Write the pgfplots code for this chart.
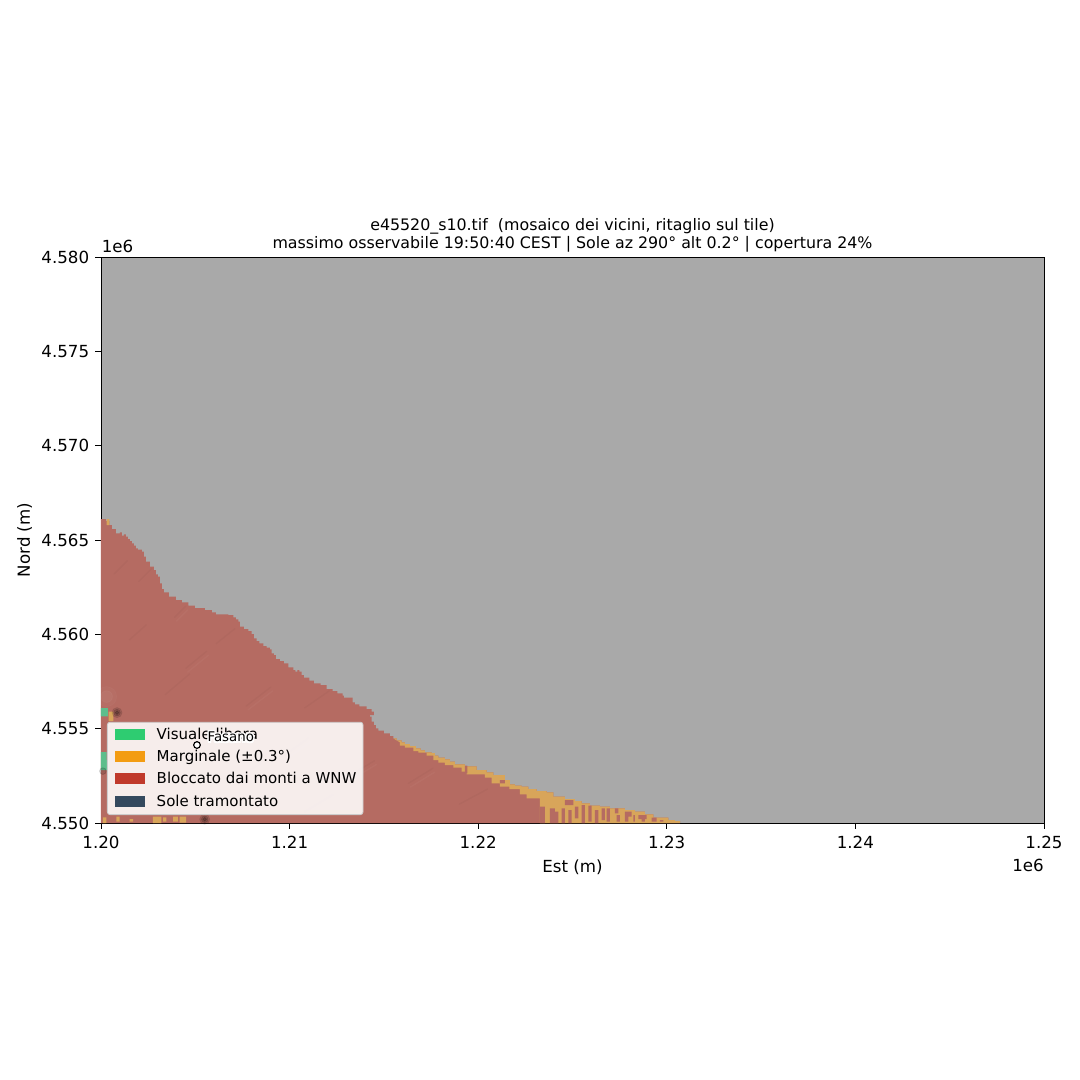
\documentclass[border=0pt]{standalone}
\usepackage{fontspec}
\setmainfont{DejaVu Sans}
\setsansfont{DejaVu Sans}
\usepackage{pgfplots}
\pgfplotsset{compat=1.18}
\definecolor{cgrey}{HTML}{A9A9A9}
\definecolor{credov}{HTML}{B56B62}
\definecolor{corov}{HTML}{D8A55A}
\definecolor{cgrov}{HTML}{5DBE8C}
\definecolor{cg}{HTML}{2ECC71}
\definecolor{co}{HTML}{F39C12}
\definecolor{cr}{HTML}{C0392B}
\definecolor{cn}{HTML}{34495E}
\pgfplotsset{
 base/.style={
  scale only axis, width=565.8pt, height=339.6pt,
  at={(0pt,0pt)}, anchor=south west,
  xmin=1200000, xmax=1250000, ymin=4550000, ymax=4580000,
  clip=true, unbounded coords=jump, scaled x ticks=false, scaled y ticks=false,
 },
 swatch/.style={legend image code/.code={\fill[##1,fill opacity=1,draw=none,sharp corners] (1.8pt,-0.3pt) rectangle (19.8pt,6.3pt);\path (0pt,0pt) (25.2pt,0pt);}},
}
\newcommand{\haloone}[2]{\node[white,font=\fontsize{8}{9.6}\selectfont,anchor=center] at ([xshift=#1pt,yshift=#2pt]axis cs:1206880,4554550) {Fasano};}
\begin{document}
\begin{tikzpicture}
\path[use as bounding box] (-60.6pt,-154.2pt) rectangle (587.4pt,493.8pt);
\begin{axis}[base,
  axis background/.style={fill=cgrey},
  line width=0.48pt,
  tick style={black,line width=0.48pt},
  major tick length=3.5pt,
  tick align=outside, xtick pos=bottom, ytick pos=left,
  xtick={1200000,1210000,1220000,1230000,1240000,1250000},
  xticklabels={1.20,1.21,1.22,1.23,1.24,1.25},
  ytick={4550000,4555000,4560000,4565000,4570000,4575000,4580000},
  yticklabels={4.550,4.555,4.560,4.565,4.570,4.575,4.580},
  tick label style={font=\fontsize{10}{12}\selectfont},
  x tick label style={yshift=-1pt},
  title style={at={(axis description cs:0.5,1)},anchor=south,align=center,yshift=-6.6pt,font=\fontsize{9.5}{10.9}\selectfont},
  title={e45520\_s10.tif\ \ (mosaico dei vicini, ritaglio sul tile)\\massimo osservabile 19:50:40 CEST | Sole az 290° alt 0.2° | copertura 24\%},
  xlabel={Est (m)}, ylabel={Nord (m)},
  label style={font=\fontsize{10}{12}\selectfont},
  xlabel style={at={(axis description cs:0.5,-0.0777)},anchor=center},
  ylabel style={at={(axis description cs:-0.081,0.5)},anchor=center,rotate=0},
  legend style={at={(0.00636,0.01413)},anchor=south west,
    fill=white,fill opacity=0.88,draw opacity=1,text opacity=1,draw=black!20,
    rounded corners=1.5pt,line width=0.5pt,
    font=\fontsize{9}{10.8}\selectfont,
    inner xsep=2.4pt,inner ysep=1.6pt,row sep=1.4pt,
    nodes={inner sep=1.5pt,anchor=base west,text height=7pt,text depth=2.0pt}},
  legend cell align=left,
  swatch,
]
\addlegendimage{fill=cg}\addlegendentry{Visuale libera}
\addlegendimage{fill=co}\addlegendentry{Marginale (±0.3°)}
\addlegendimage{fill=cr}\addlegendentry{Bloccato dai monti a WNW}
\addlegendimage{fill=cn}\addlegendentry{Sole tramontato}
% blocked region
\addplot[const plot,fill=credov,draw=none,forget plot] coordinates {
(1200000,4550000)(1200000,4566112)(1200265,4566006)(1200442,4565794)(1200583,4565582)(1200795,4565352)(1201007,4565405)
(1201113,4565228)(1201219,4565299)(1201325,4565175)(1201431,4565052)(1201537,4564946)(1201643,4564822)(1201749,4564698)
(1201855,4564557)(1201961,4564486)(1202173,4564380)(1202279,4564115)(1202385,4563850)(1202598,4563585)(1202810,4563408)
(1202916,4563179)(1203022,4563055)(1203128,4562702)(1203234,4562401)(1203340,4562225)(1203605,4561995)(1203976,4561818)
(1204294,4561695)(1204630,4561518)(1204983,4561394)(1205514,4561289)(1205885,4561165)(1206097,4561059)(1206751,4561024)
(1207016,4560900)(1207157,4560794)(1207281,4560670)(1207369,4560405)(1207581,4560282)(1207811,4560176)(1207988,4560017)
(1208112,4559787)(1208253,4559646)(1208394,4559522)(1208606,4559381)(1208783,4559292)(1208960,4559204)(1209048,4558992)
(1209172,4558903)(1209278,4558691)(1209490,4558585)(1209702,4558462)(1209932,4558250)(1210197,4558108)(1210303,4558020)
(1210409,4558108)(1210515,4558020)(1210639,4557844)(1210763,4557703)(1211046,4557543)(1211293,4557402)(1211647,4557314)
(1211965,4557102)(1212283,4556996)(1212530,4556872)(1212813,4556748)(1212883,4556642)(1213343,4556395)(1213467,4556289)
(1213696,4556183)(1214085,4556042)(1214350,4555900)(1214474,4555724)(1214262,4555635)(1214350,4555370)(1214474,4555193)
(1214580,4555017)(1214703,4554893)(1215004,4554752)(1215323,4554611)(1215500,4554487)(1215676,4554381)(1215941,4554275)
(1216118,4554187)(1216383,4554081)(1216701,4553957)(1216949,4553851)(1217178,4553745)(1217532,4553710)(1217708,4553568)
(1217885,4553462)(1218239,4553374)(1218504,4553250)(1218769,4553109)(1219299,4553003)(1219917,4552809)(1220447,4552685)
(1220801,4552544)(1221419,4552279)(1221684,4552049)(1221949,4551978)(1222303,4551925)(1222656,4551802)(1223098,4551696)
(1223628,4551625)(1223982,4551395)(1224600,4551272)(1225130,4551166)(1225484,4551042)(1225926,4550918)(1226457,4550865)
(1226987,4550777)(1227782,4550689)(1228312,4550600)(1228842,4550459)(1229284,4550282)(1230080,4550159)(1230433,4550106)(1230700,4550000)};
% hillshade streaks
\addplot[black,opacity=0.028,line width=0.8pt,line cap=round,forget plot] coordinates {
(1203900,4560900)(1204500,4561500)(nan,nan)(1201500,4559700)(1202400,4560500)(nan,nan)(1204500,4558200)(1205600,4559100)(nan,nan)
(1206100,4559500)(1207100,4560300)(nan,nan)(1203400,4556800)(1204700,4557900)(nan,nan)(1207700,4556200)(1209000,4557200)(nan,nan)
(1210800,4556100)(1212100,4557000)(nan,nan)(1209600,4553500)(1211000,4554500)(nan,nan)(1213000,4552400)(1214500,4553300)(nan,nan)
(1216300,4552100)(1217600,4552900)(nan,nan)(1219000,4551000)(1220500,4551800)(nan,nan)(1207000,4552200)(1208500,4553200)(nan,nan)
(1210800,4550600)(1212300,4551500)(nan,nan)(1202000,4562800)(1202700,4563500)(nan,nan)(1200700,4563200)(1201400,4563900)};
\addplot[white,opacity=0.03,line width=0.8pt,line cap=round,forget plot] coordinates {
(1204000,4560700)(1204600,4561300)(nan,nan)(1204600,4558000)(1205700,4558900)(nan,nan)(1207800,4556000)(1209100,4557000)(nan,nan)
(1209700,4553300)(1211100,4554300)(nan,nan)(1213100,4552200)(1214600,4553100)(nan,nan)(1216400,4551900)(1217700,4552700)};
% light and dark terrain near the left edge
\addplot[only marks,mark=*,mark size=6pt,white,opacity=0.025,draw=none,forget plot] coordinates {(1200300,4556700)};
\addplot[only marks,mark=*,mark size=3.5pt,white,opacity=0.035,draw=none,forget plot] coordinates {(1200300,4556700)};
\addplot[only marks,mark=*,mark size=3pt,black,opacity=0.1,draw=none,forget plot] coordinates {(1200850,4555850)(1205500,4550200)};
\addplot[only marks,mark=*,mark size=2pt,black,opacity=0.15,draw=none,forget plot] coordinates {(1200850,4555850)(1205500,4550200)(1200100,4552750)};
\addplot[only marks,mark=*,mark size=1.1pt,black,opacity=0.2,draw=none,forget plot] coordinates {(1200850,4555850)(1205500,4550200)};
% marginal band
\addplot[const plot,fill=corov,draw=none,forget plot] coordinates {
(1215500,4554487)(1215676,4554381)(1215941,4554275)
(1216118,4554187)(1216383,4554081)(1216701,4553957)(1216949,4553851)(1217178,4553745)(1217532,4553710)(1217708,4553568)
(1217885,4553462)(1218239,4553374)(1218504,4553250)(1218769,4553109)(1219299,4553003)(1219917,4552809)(1220447,4552685)
(1220801,4552544)(1221419,4552279)(1221684,4552049)(1221949,4551978)(1222303,4551925)(1222656,4551802)(1223098,4551696)
(1223628,4551625)(1223982,4551395)(1224600,4551272)(1225130,4551166)(1225484,4551042)(1225926,4550918)(1226457,4550865)
(1226987,4550777)(1227782,4550689)(1228312,4550600)(1228842,4550459)(1229284,4550282)(1230080,4550159)(1230433,4550106)(1230700,4550000)
(1223274,4550000)(1223274,4551307)(1222568,4551519)(1222214,4551802)(1221649,4551925)(1221153,4552102)(1220712,4552402)
(1220359,4552579)(1219387,4552720)(1219122,4552932)(1218680,4553074)(1218239,4553197)(1217885,4553339)(1217620,4553568)
(1217267,4553727)(1216825,4553816)(1216560,4553993)(1216118,4554099)(1215853,4554275)};
\addplot[fill=corov,draw=none,forget plot] coordinates {
(1200106,4550000)(1200106,4550300)(1200283,4550300)(1200283,4550000)(nan,nan)
(1200813,4550070)(1200813,4550336)(1200990,4550336)(1200990,4550070)(nan,nan)
(1201520,4550070)(1201520,4550200)(1201700,4550200)(1201700,4550070)(nan,nan)
(1202756,4550000)(1202756,4550336)(1203200,4550336)(1203200,4550000)(nan,nan)
(1203290,4550070)(1203290,4550300)(1203460,4550300)(1203460,4550070)(nan,nan)
(1203820,4550070)(1203820,4550336)(1204080,4550336)(1204080,4550070)(nan,nan)
(1204170,4550020)(1204170,4550336)(1204520,4550336)(1204520,4550020)(nan,nan)
(1200300,4565794)(1200300,4566112)(1200442,4566112)(1200442,4565794)(nan,nan)
(1200400,4555400)(1200400,4555900)(1200650,4555900)(1200650,4555400)};
% red cells inside the marginal band
\addplot[fill=credov,draw=none,forget plot] coordinates {
(1219299,4552632)(1219299,4553039)(1219422,4553039)(1219422,4552632)(nan,nan)
(1221153,4552102)(1221153,4552279)(1221419,4552279)(1221419,4552102)(nan,nan)
(1223275,4550000)(1223275,4550865)(1223540,4550865)(1223540,4550000)(nan,nan)
(1223805,4550000)(1223805,4550777)(1224070,4550777)(1224070,4550000)(nan,nan)
(1224600,4550954)(1224600,4551219)(1225042,4551219)(1225042,4550954)(nan,nan)
(1224070,4550000)(1224070,4550600)(1224247,4550600)(1224247,4550000)(nan,nan)
(1224424,4550000)(1224424,4550777)(1224600,4550777)(1224600,4550000)(nan,nan)
(1224777,4550000)(1224777,4550689)(1224954,4550689)(1224954,4550000)(nan,nan)
(1225130,4550247)(1225130,4550865)(1225307,4550865)(1225307,4550247)(nan,nan)
(1225484,4550000)(1225484,4550954)(1225660,4550954)(1225660,4550000)(nan,nan)
(1225838,4550070)(1225838,4550918)(1226014,4550918)(1226014,4550070)(nan,nan)
(1226191,4550000)(1226191,4550689)(1226367,4550689)(1226367,4550000)(nan,nan)
(1226544,4550159)(1226544,4550777)(1226721,4550777)(1226721,4550159)(nan,nan)
(1226810,4550070)(1226810,4550777)(1226987,4550777)(1226987,4550070)(nan,nan)
(1227252,4550512)(1227252,4550777)(1227430,4550777)(1227430,4550512)(nan,nan)
(1227340,4550070)(1227340,4550424)(1227517,4550424)(1227517,4550070)(nan,nan)
(1227782,4550070)(1227782,4550600)(1227959,4550600)(1227959,4550070)(nan,nan)
(1227959,4550335)(1227959,4550600)(1228137,4550600)(1228137,4550335)(nan,nan)
(1228224,4550070)(1228224,4550424)(1228312,4550424)(1228312,4550070)(nan,nan)
(1228489,4550212)(1228489,4550424)(1228931,4550424)(1228931,4550212)(nan,nan)
(1228666,4550070)(1228666,4550212)(1228843,4550212)(1228843,4550070)(nan,nan)
(1229196,4550070)(1229196,4550282)(1229461,4550282)(1229461,4550070)(nan,nan)
(1229638,4550070)(1229638,4550159)(1229814,4550159)(1229814,4550070)};
% clear-view cells
\addplot[fill=cgrov,draw=none,forget plot] coordinates {
(1200000,4555650)(1200000,4556095)(1200371,4556095)(1200371,4555650)(nan,nan)
(1200000,4553000)(1200000,4553763)(1200300,4553763)(1200300,4553000)(nan,nan)
(1200000,4552800)(1200000,4553339)(1200400,4553339)(1200400,4552800)};
\end{axis}
% the town drawn above the legend
\begin{axis}[base,axis lines=none,clip=false,xtick=\empty,ytick=\empty]
\addplot[only marks,mark=*,mark size=2pt,mark options={fill=white,draw=black,line width=0.7pt}] coordinates {(1205090,4554134)};
\haloone{-0.9}{0}\haloone{0.9}{0}\haloone{0}{-0.9}\haloone{0}{0.9}
\haloone{-0.65}{-0.65}\haloone{0.65}{0.65}\haloone{-0.65}{0.65}\haloone{0.65}{-0.65}
\node[black,font=\fontsize{8}{9.6}\selectfont,anchor=center] at (axis cs:1206880,4554550) {Fasano};
\node[font=\fontsize{10}{12}\selectfont,anchor=west] at ([xshift=-3pt,yshift=6.6pt]axis cs:1200000,4580000) {1e6};
\node[font=\fontsize{10}{12}\selectfont,anchor=east] at ([xshift=3.4pt,yshift=-25.2pt]axis cs:1250000,4550000) {1e6};
\end{axis}
\end{tikzpicture}
\end{document}
